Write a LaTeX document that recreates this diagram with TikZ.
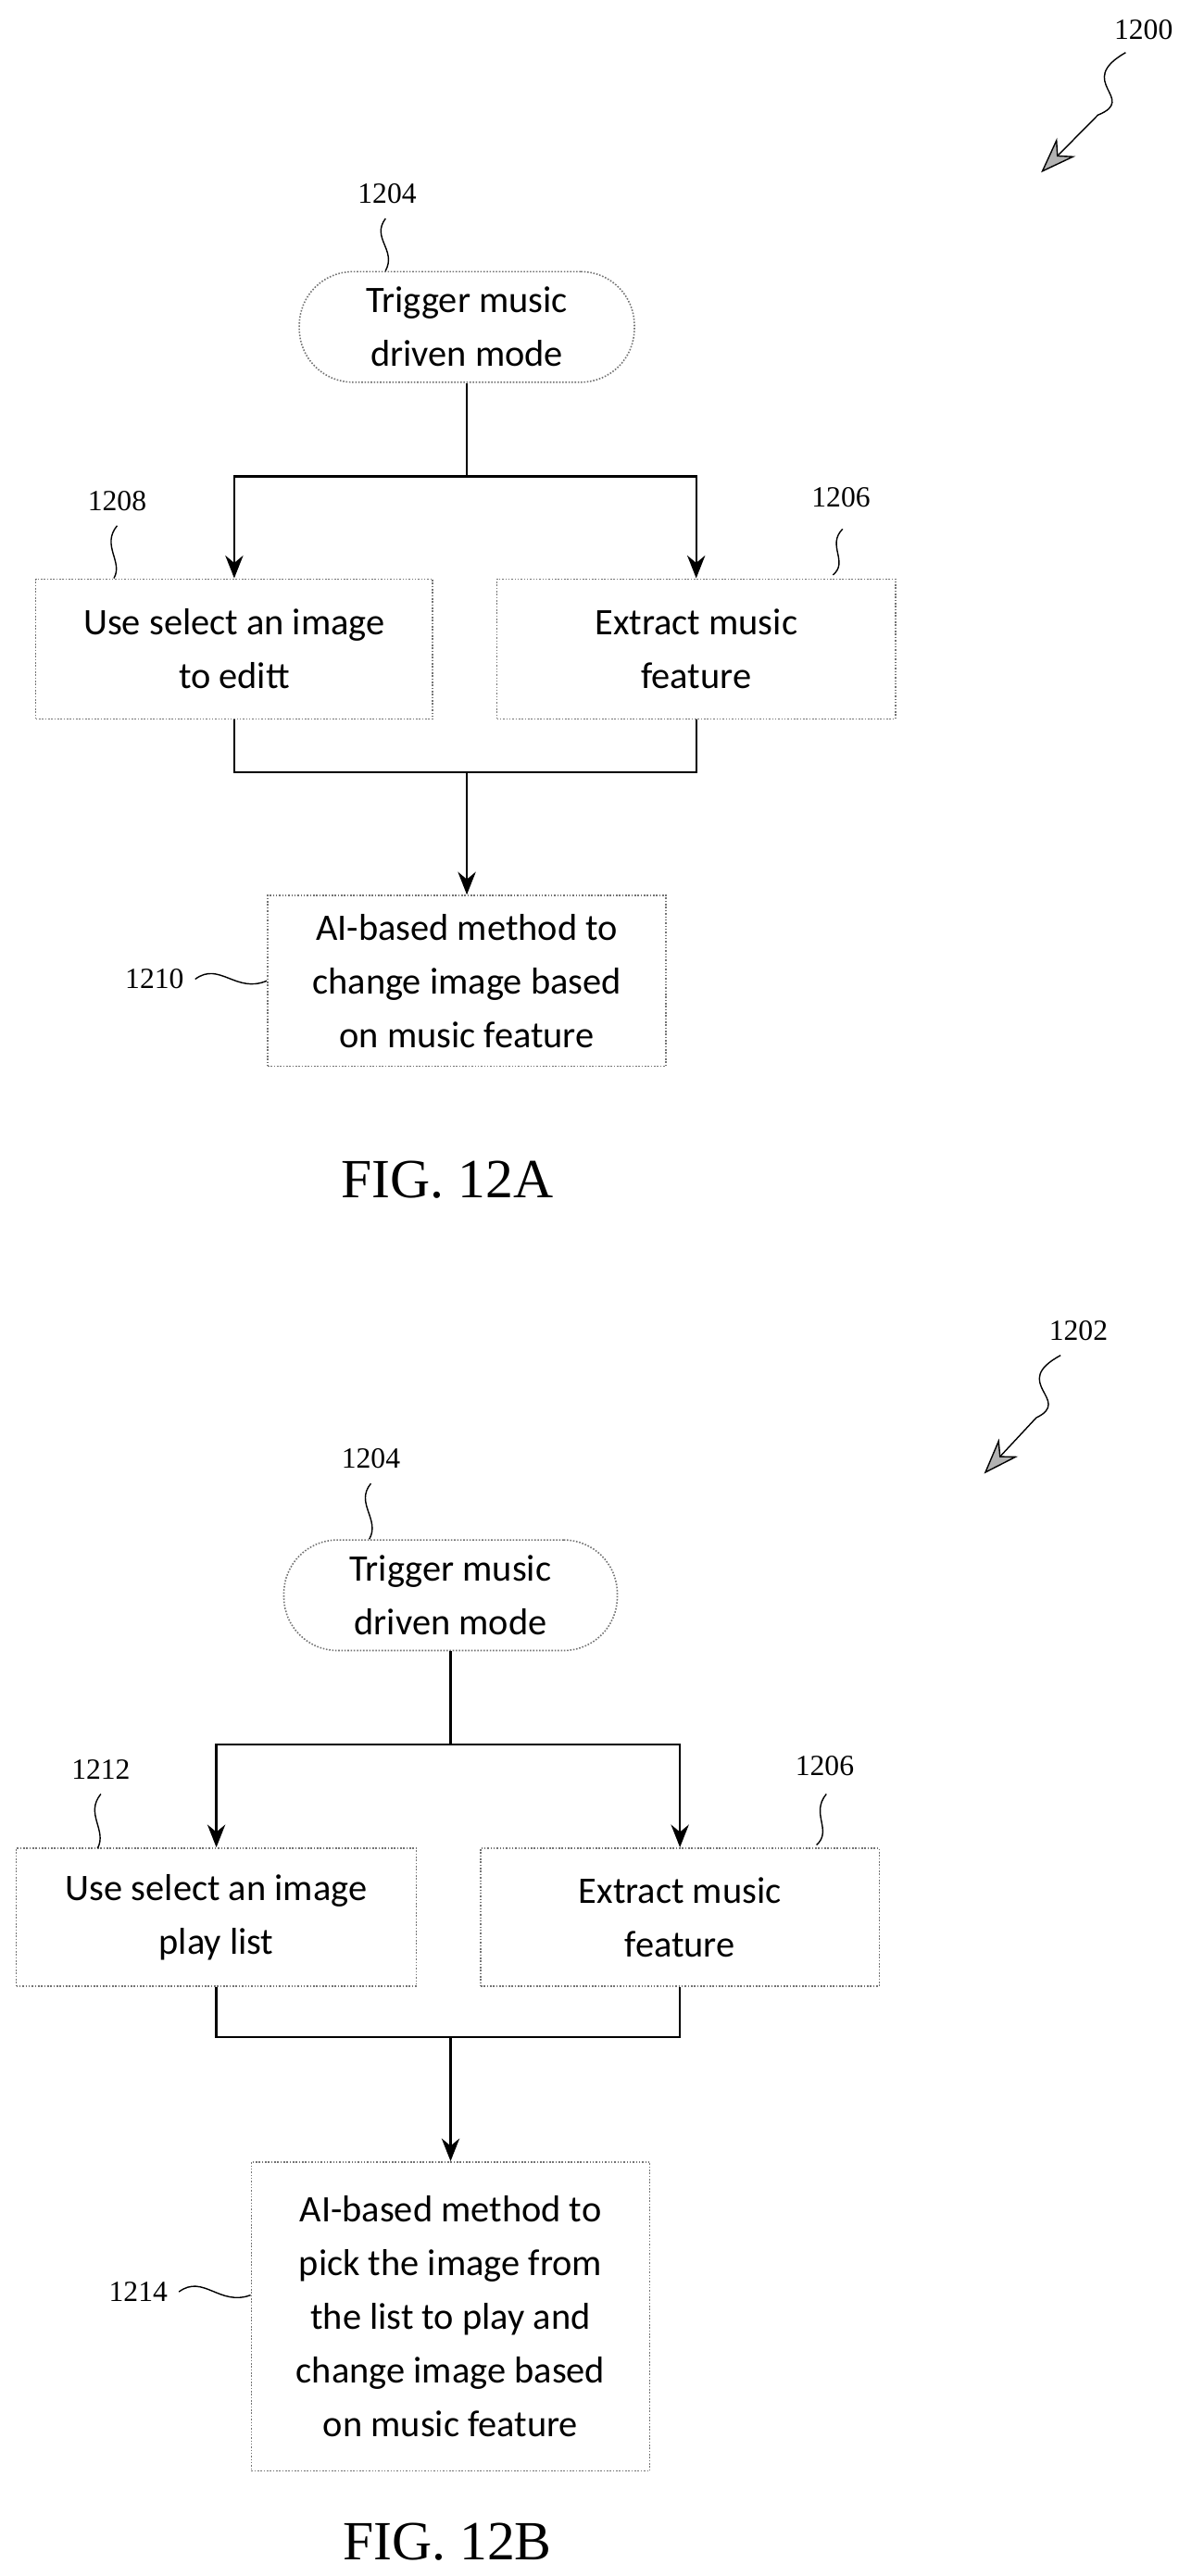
\documentclass[tikz,border=0pt]{standalone}
\usepackage{fontspec}
\setmainfont{Liberation Serif}
\newfontfamily\boxfont{Carlito}
\usetikzlibrary{arrows.meta}
\begin{document}
\begin{tikzpicture}[x=1pt,y=-1.0102pt,
  box/.style={draw=gray!90!black,densely dotted,line width=0.9pt,font=\boxfont\fontsize{23}{33}\selectfont,align=center,inner sep=0pt},
  term/.style={box,rounded corners=33pt},
  lab/.style={font=\fontsize{18}{20}\selectfont},
  fig/.style={font=\fontsize{34}{36}\selectfont},
  conn/.style={line width=1.3pt},
  arr/.style={conn,-{Stealth[length=14pt,width=11pt]}},
  sq/.style={line width=0.8pt},
  big/.style={line width=0.8pt,-{Stealth[length=22pt,width=16pt,fill=gray!60]}}]
\useasboundingbox[fill=white] (0,0) rectangle (740,1568);
% ---------- FIG 12A
\node[lab] (n1200) at (703,18) {1200};
\coordinate (a1200) at (640,105);
\draw[big] (692,32) .. controls (660,50) and (700,60) .. (675,70) -- (a1200);
\node[term,minimum width=206pt,minimum height=68pt] (t1) at (287,199) {Trigger music\\driven mode};
\node[lab] (l1204a) at (238,118) {1204};
\draw[sq] (237,133) .. controls (228,145) and (244,152) .. (t1.north -| 237,0);
\node[box,minimum width=244pt,minimum height=86pt] (b1208) at (144,395) {Use select an image\\to editt};
\node[box,minimum width=245pt,minimum height=86pt] (b1206) at (428,395) {Extract music\\feature};
\node[lab] (l1208) at (72,305) {1208};
\node[lab] (l1206a) at (517,303) {1206};
\draw[sq] (72,320) .. controls (62,332) and (76,342) .. (70,352);
\draw[sq] (518,322) .. controls (508,332) and (522,342) .. (512,350);
\node[box,minimum width=245pt,minimum height=105pt] (b1210) at (287,597) {AI-based method to\\change image based\\on music feature};
\node[lab] (l1210) at (95,596) {1210};
\draw[sq] (120,596) .. controls (135,585) and (145,605) .. (b1210.west);
\coordinate (ja) at (287,290);
\coordinate (ka) at (287,470);
\draw[conn] (t1.south) -- (ja);
\draw[arr] (ja) -| (b1208.north);
\draw[arr] (ja) -| (b1206.north);
\draw[conn] (b1208.south) |- (ka);
\draw[conn] (b1206.south) |- (ka);
\draw[arr] (ka) -- (b1210.north);
\node[fig] (f12a) at (275,718) {FIG. 12A};
% ---------- FIG 12B
\node[lab] (n1202) at (663,810) {1202};
\coordinate (a1202) at (605,897);
\draw[big] (652,825) .. controls (620,842) and (660,852) .. (637,863) -- (a1202);
\node[term,minimum width=205pt,minimum height=68pt] (t2) at (277,971) {Trigger music\\driven mode};
\node[lab] (l1204b) at (228,888) {1204};
\draw[sq] (228,903) .. controls (218,915) and (234,925) .. (t2.north -| 227,0);
\node[box,minimum width=246pt,minimum height=85pt] (b1212) at (133,1167) {Use select an image\\play list};
\node[box,minimum width=245pt,minimum height=85pt] (b1206b) at (418,1167) {Extract music\\feature};
\node[lab] (l1212) at (62,1077) {1212};
\node[lab] (l1206b) at (507,1075) {1206};
\draw[sq] (62,1092) .. controls (52,1104) and (66,1114) .. (60,1125);
\draw[sq] (508,1092) .. controls (498,1104) and (512,1114) .. (502,1123);
\node[box,minimum width=245pt,minimum height=190pt] (b1214) at (277,1410) {AI-based method to\\pick the image from\\the list to play and\\change image based\\on music feature};
\node[lab] (l1214) at (85,1395) {1214};
\draw[sq] (110,1395) .. controls (125,1384) and (135,1404) .. (b1214.west |- 0,1397);
\coordinate (jb) at (277,1062);
\coordinate (kb) at (277,1240);
\draw[conn] (t2.south) -- (jb);
\draw[arr] (jb) -| (b1212.north);
\draw[arr] (jb) -| (b1206b.north);
\draw[conn] (b1212.south) |- (kb);
\draw[conn] (b1206b.south) |- (kb);
\draw[arr] (kb) -- (b1214.north);
\node[fig] (f12b) at (275,1547) {FIG. 12B};
\end{tikzpicture}
\end{document}
